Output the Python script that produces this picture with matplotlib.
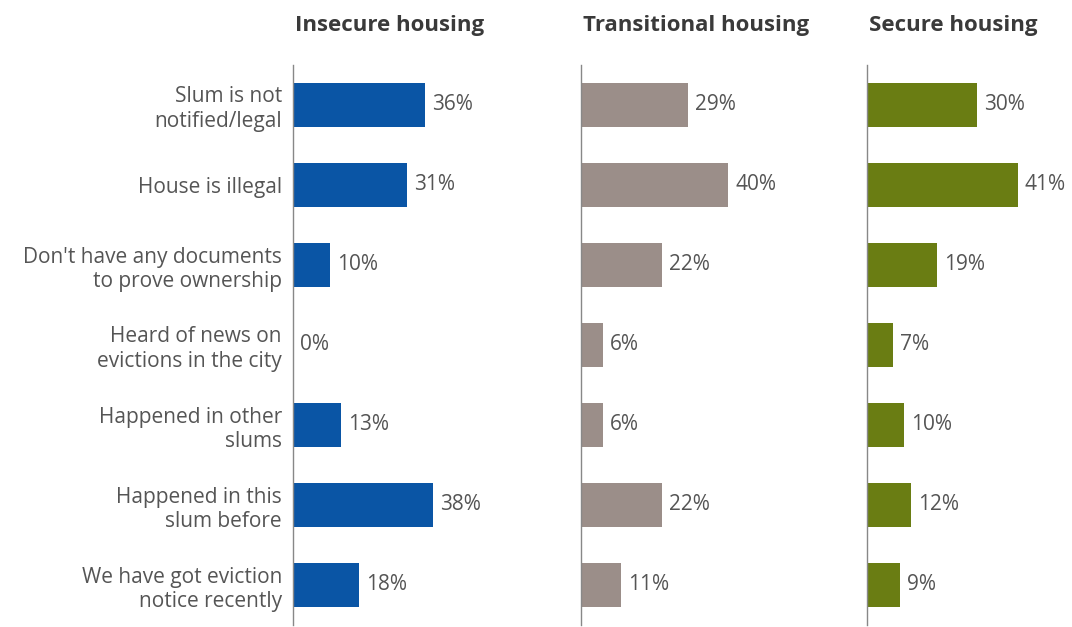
import matplotlib
matplotlib.use("Agg")
from matplotlib import pyplot as plt
import numpy as np

categories = ["Slum is not\nnotified/legal", "House is illegal",
              "Don't have any documents\nto prove ownership",
              "Heard of news on\nevictions in the city",
              "Happened in other\nslums", "Happened in this\nslum before",
              "We have got eviction\nnotice recently"]
titles = ["Insecure housing", "Transitional housing", "Secure housing"]
insecure = [36, 31, 10, 0, 13, 38, 18]
transitional = [29, 40, 22, 6, 6, 22, 11]
secure = [30, 41, 19, 7, 10, 12, 9]
colors = ["#0a55a5", "#9b8e89", "#6a7d13"]

plt.rcParams['font.family'] = ['Open Sans', 'DejaVu Sans']
W, H = 1072, 627
fig = plt.figure(figsize=(W / 100, H / 100), dpi=100)

lefts = [293, 581, 867]
ax_w = 190
px_per = 3.68
y = np.arange(len(categories))
for i, vals in enumerate([insecure, transitional, secure]):
    ax = fig.add_axes([lefts[i] / W, 2 / H, ax_w / W, 560 / H])
    ax.barh(y, vals, height=0.55, color=colors[i])
    for yy, v in zip(y, vals):
        ax.text(v + 1.9, yy, "%d%%" % v, va="center", ha="left",
                fontsize=15, color="#555555")
    ax.set_xlim(0, ax_w / px_per)
    ax.set_ylim(len(categories) - 0.5, -0.5)
    for s in ["top", "right", "bottom"]:
        ax.spines[s].set_visible(False)
    ax.spines["left"].set_color("#888888")
    ax.spines["left"].set_linewidth(1.0)
    ax.set_xticks([])
    if i == 0:
        ax.set_yticks(y)
        ax.set_yticklabels(categories, fontsize=15, color="#555555",
                           linespacing=1.2)
        ax.tick_params(axis="y", length=0, pad=8)
    else:
        ax.set_yticks([])
    fig.text((lefts[i] + 2) / W, 1 - 25 / H, titles[i], ha="left", va="center",
             fontsize=16, fontweight="bold", color="#3a3a3a")

fig.savefig("out.png", dpi=100)
